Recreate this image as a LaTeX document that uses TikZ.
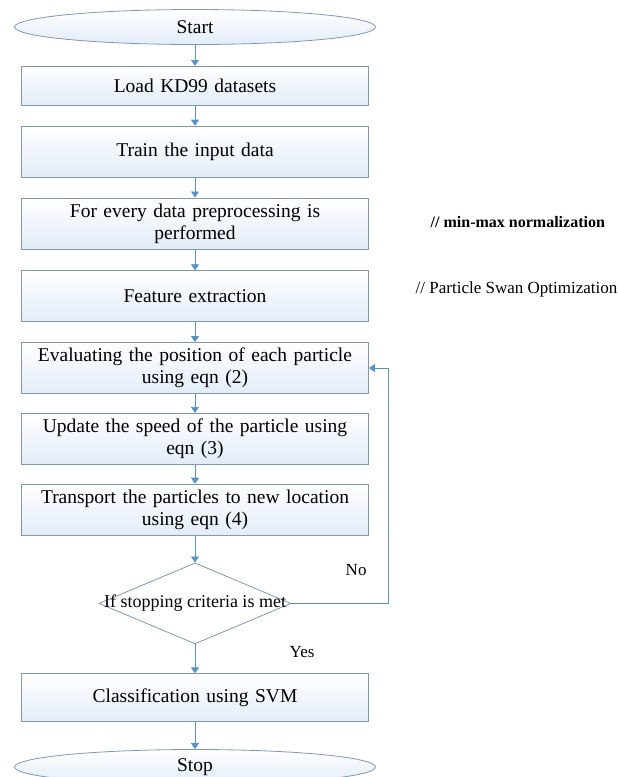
\documentclass[tikz,border=0pt]{standalone}
\usepackage{fontspec}
\setmainfont{Liberation Serif}
\usetikzlibrary{positioning,shapes.geometric,arrows.meta}

\definecolor{edgeblue}{RGB}{130,152,176}
\definecolor{fillblue}{RGB}{226,236,248}
\definecolor{arrowblue}{RGB}{84,146,204}

\begin{document}
\begin{tikzpicture}[x=1pt,y=1pt,node distance=20pt,line width=0.8pt,
  every node/.style={font=\fontsize{19.5}{22}\selectfont},
  boxc/.style={rectangle,draw=edgeblue,top color=white,bottom color=fillblue,
    minimum width=347pt,minimum height=51pt,text width=340pt,align=center,inner sep=2pt},
  term/.style={ellipse,draw=edgeblue,top color=white,bottom color=fillblue,
    minimum width=361pt,minimum height=35pt,inner sep=0pt},
  decide/.style={diamond,draw=edgeblue,fill=white,minimum width=192pt,
    minimum height=81pt,inner sep=0pt},
  note/.style={font=\fontsize{17}{20}\selectfont,anchor=west},
  flow/.style={-{Triangle[width=8pt,length=6pt]},color=arrowblue,line width=0.8pt}]
\useasboundingbox (0,0) rectangle (618,-777);

\node[term] (start) at (195,-27) {Start};
\node[boxc,minimum height=39pt] (load) [below=21pt of start] {Load KD99 datasets};
\node[boxc] (train) [below=of load] {Train the input data};
\node[boxc] (prep) [below=of train] {For every data preprocessing is\\performed};
\node[boxc] (feat) [below=21pt of prep] {Feature extraction};
\node[boxc] (eval) [below=of feat] {Evaluating the position of each particle\\using eqn (2)};
\node[boxc] (speed) [below=19pt of eval] {Update the speed of the particle using\\eqn (3)};
\node[boxc] (move) [below=19pt of speed] {Transport the particles to new location\\using eqn (4)};
\node[decide,label={[font=\fontsize{18}{20}\selectfont]center:If stopping criteria is met}] (check) [below=27pt of move] {};
\node[boxc,minimum height=48pt] (svm) [below=29pt of check] {Classification using SVM};
\node[term] (stop) [below=27pt of svm] {Stop};

% comments on the right
\node[note,font=\fontsize{16}{20}\selectfont\bfseries] (norm) at (427,-222) {// min-max normalization};
\node[note] (pso) at (412,-289) {// Particle Swan Optimization};

\node[note] (yes) at (286,-652) {Yes};
\node[note] (no) at (342,-570) {No};
\coordinate[right=97pt of check.east] (loopr);

\path[flow] (start) edge (load)
	(load) edge (train)
	(train) edge (prep)
	(prep) edge (feat)
	(feat) edge (eval)
	(eval) edge (speed)
	(speed) edge (move)
	(move) edge (check)
	(check) edge (svm)
	(svm) edge (stop);
\draw[flow] (check.east) -- (loopr) |- (eval.east);
\end{tikzpicture}
\end{document}
